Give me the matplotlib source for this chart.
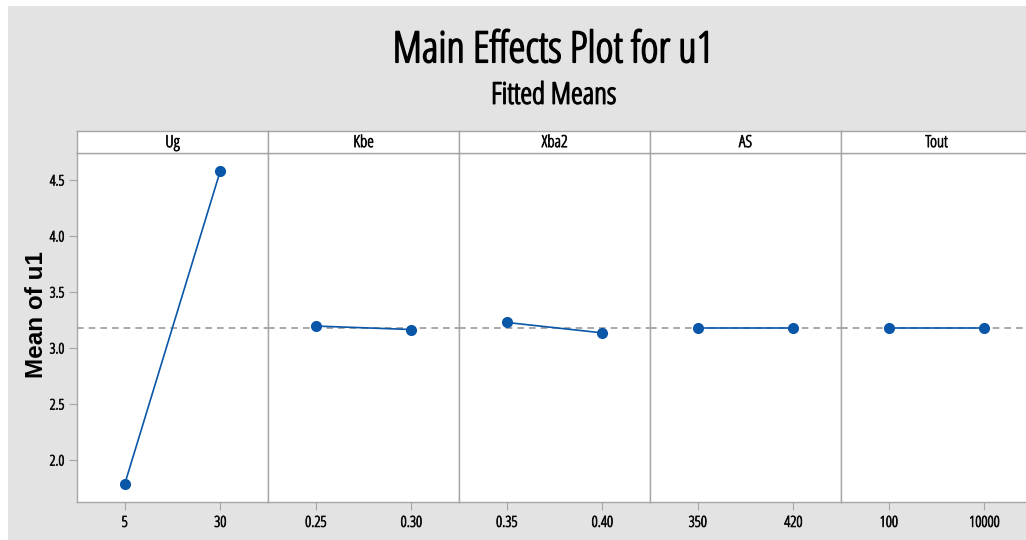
import matplotlib
matplotlib.use("Agg")
import matplotlib.pyplot as plt
from matplotlib.patches import Rectangle
import matplotlib.patheffects as pe

factors = ["Ug", "Kbe", "Xba2", "AS", "Tout"]
levels = [["5", "30"], ["0.25", "0.30"], ["0.35", "0.40"], ["350", "420"], ["100", "10000"]]
means = [[1.786, 4.580], [3.196, 3.165], [3.228, 3.135], [3.183, 3.183], [3.183, 3.183]]
grand_mean = 3.183
yticks = [2.0, 2.5, 3.0, 3.5, 4.0, 4.5]

W, H = 1026, 540
fig = plt.figure(figsize=(W / 100, H / 100), dpi=100)
fig.patch.set_facecolor("white")
bg = "#e3e3e3"
fig.add_artist(Rectangle((8 / W, 0), 1 - 8 / W, 1 - 6 / H, transform=fig.transFigure,
                         facecolor=bg, edgecolor="none", zorder=-10))

font = "Open Sans"
cond = dict(family=font, stretch="condensed")
edge = "#a6a6a6"
blue = "#0a56a8"


def bold(lw, color="black"):
    return [pe.withStroke(linewidth=lw, foreground=color)]


fig.text(553 / W, 1 - 51 / H, "Main Effects Plot for u1", ha="center", va="center",
         fontsize=31, color="black", path_effects=bold(1.2), **cond)
fig.text(554 / W, 1 - 96 / H, "Fitted Means", ha="center", va="center",
         fontsize=21.5, color="black", path_effects=bold(1.0), **cond)

left0, pw = 77, 191
top, bottom = 153, 502
strip_top = 131
ymin, ymax = 1.625, 4.741

for i, (fac, lev, m) in enumerate(zip(factors, levels, means)):
    x0 = left0 + i * pw
    ax = fig.add_axes([x0 / W, 1 - bottom / H, pw / W, (bottom - top) / H])
    ax.set_facecolor("white")
    ax.set_xlim(-0.5, 1.5)
    ax.set_ylim(ymin, ymax)
    ax.axhline(grand_mean, color="#9a9a9a", lw=1.2, ls=(0, (4, 3)), zorder=1)
    ax.plot([0, 1], m, color=blue, lw=1.2, marker="o", ms=7, mfc=blue, mec=blue, zorder=3)
    ax.set_xticks([0, 1])
    ax.set_xticklabels(lev, fontsize=11, path_effects=bold(0.6, "#222222"), **cond)
    for s in ax.spines.values():
        s.set_color(edge)
        s.set_linewidth(1.0)
    ax.tick_params(axis="x", length=6, color=edge, pad=4)
    if i == 0:
        ax.set_yticks(yticks)
        ax.set_yticklabels([f"{v:.1f}" for v in yticks], fontsize=10.5,
                           path_effects=bold(0.6, "#222222"), **cond)
        ax.tick_params(axis="y", length=6, color=edge, pad=3)
        ax.set_ylabel("Mean of u1", fontsize=17.5, fontweight="bold",
                      family="Liberation Sans")
        ax.yaxis.set_label_coords((48 - x0) / pw, (bottom - 315) / (bottom - top))
    else:
        ax.set_yticks([])
    sax = fig.add_axes([x0 / W, 1 - top / H, pw / W, (top - strip_top) / H])
    sax.set_facecolor("white")
    sax.set_xticks([])
    sax.set_yticks([])
    for s in sax.spines.values():
        s.set_color(edge)
        s.set_linewidth(1.0)
    sax.text(0.5, 0.45, fac, ha="center", va="center", fontsize=12,
             transform=sax.transAxes, path_effects=bold(0.6, "#222222"), **cond)

fig.savefig("out.png", dpi=100, facecolor=fig.get_facecolor())
